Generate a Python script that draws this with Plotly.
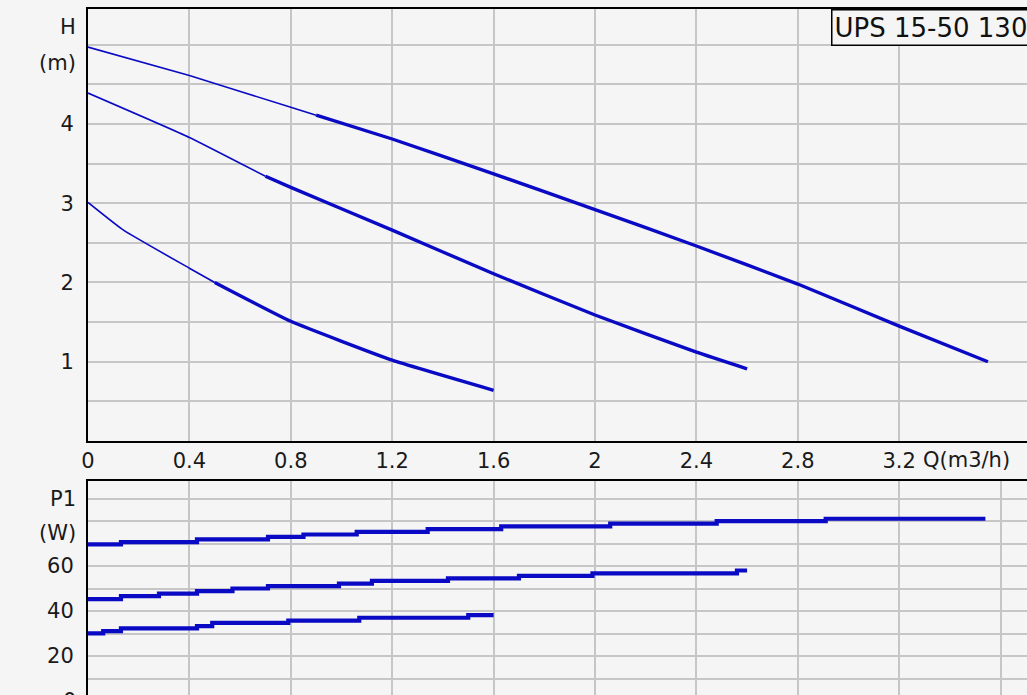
import plotly.graph_objects as go
from plotly.subplots import make_subplots

# Pump curves: head H (m) against flow Q (m3/h), three speed settings
q_h_high = [0, 0.4, 0.8, 0.9, 1.2, 1.6, 2.0, 2.4, 2.8, 3.2, 3.55]
h_high = [4.97, 4.61, 4.21, 4.11, 3.81, 3.37, 2.92, 2.46, 1.98, 1.45, 1.0]
split_high = 3  # index where the operating (thick) part begins

q_h_mid = [0, 0.4, 0.7, 0.8, 1.2, 1.6, 2.0, 2.4, 2.6]
h_mid = [4.39, 3.83, 3.34, 3.20, 2.66, 2.11, 1.59, 1.12, 0.91]
split_mid = 2

q_h_low = [0, 0.14, 0.4, 0.5, 0.8, 1.2, 1.6]
h_low = [3.01, 2.66, 2.18, 2.0, 1.51, 1.02, 0.64]
split_low = 3

# Power input P1 (W) against flow Q (m3/h)
q_p_high = [0, 0.13, 0.43, 0.71, 0.85, 1.06, 1.34, 1.63, 2.06, 2.48, 2.91, 3.54]
p_high = [69.6, 70.6, 71.8, 72.9, 74.0, 75.2, 76.4, 77.6, 78.8, 79.9, 81.0, 81.0]

q_p_mid = [0, 0.13, 0.28, 0.43, 0.57, 0.71, 0.99, 1.12, 1.42, 1.70, 1.99, 2.56, 2.60]
p_mid = [45.3, 46.6, 47.7, 48.8, 50.0, 51.1, 52.2, 53.4, 54.5, 55.6, 56.7, 58.0, 58.0]

q_p_low = [0, 0.06, 0.13, 0.43, 0.49, 0.79, 1.07, 1.50, 1.60]
p_low = [30.1, 31.1, 32.3, 33.3, 34.7, 35.7, 37.0, 38.2, 38.2]

q_ticks = [0, 0.4, 0.8, 1.2, 1.6, 2, 2.4, 2.8, 3.2]
q_tick_text = ["0", "0.4", "0.8", "1.2", "1.6", "2", "2.4", "2.8", "3.2"]
h_grid = [0.5, 1, 1.5, 2, 2.5, 3, 3.5, 4, 4.5, 5]
h_tick_text = ["", "1", "", "2", "", "3", "", "4", "", ""]
p_grid = [10, 20, 30, 40, 50, 60, 70, 80, 90]
p_tick_text = ["", "20", "", "40", "", "60", "", "", ""]

W, H = 1027, 695
ML, MT = 88, 9
PLOT_H = H - MT
BG = "#f5f5f5"
GRID = "#c6c6c6"
LINE = "#0a0ac4"
FONT = "DejaVu Sans"

fig = make_subplots(rows=2, cols=1)

for q, h, s in [(q_h_high, h_high, split_high),
                (q_h_mid, h_mid, split_mid),
                (q_h_low, h_low, split_low)]:
    fig.add_trace(go.Scatter(x=q[:s + 1], y=h[:s + 1], mode="lines",
                             line=dict(color=LINE, width=1.6, shape="spline", smoothing=0.4),
                             showlegend=False), row=1, col=1)
    fig.add_trace(go.Scatter(x=q[s:], y=h[s:], mode="lines",
                             line=dict(color=LINE, width=3.4, shape="spline", smoothing=0.4),
                             showlegend=False), row=1, col=1)

for q, p in [(q_p_high, p_high), (q_p_mid, p_mid), (q_p_low, p_low)]:
    fig.add_trace(go.Scatter(x=q, y=p, mode="lines",
                             line=dict(color=LINE, width=4.2, shape="hv"),
                             showlegend=False), row=2, col=1)

q_max = (W - ML) / 253.5
top_dom = [(H - 441) / PLOT_H, 1.0]
bot_dom = [0.0, (H - 481) / PLOT_H]
p_low_lim = (701 - H) / 2.25
p_high_lim = (701 - 481) / 2.25

tick_font = dict(family=FONT, size=21, color="#1a1a1a")

fig.update_layout(
    width=W, height=H,
    margin=dict(l=ML, r=0, t=MT, b=0),
    paper_bgcolor=BG, plot_bgcolor=BG,
    font=tick_font,
    xaxis=dict(domain=[0, 1], range=[0, q_max], tickvals=q_ticks, ticktext=q_tick_text,
               showgrid=True, gridcolor=GRID, gridwidth=2, zeroline=False,
               showline=True, linecolor="black", linewidth=2, mirror=True,
               ticks="", tickfont=tick_font, ticklabelstandoff=0),
    yaxis=dict(domain=top_dom, range=[0, 5.45], tickvals=h_grid, ticktext=h_tick_text,
               showgrid=True, gridcolor=GRID, gridwidth=2, zeroline=False,
               showline=True, linecolor="black", linewidth=2,
               ticks="", tickfont=tick_font, ticklabelstandoff=8),
    xaxis2=dict(domain=[0, 1], range=[0, q_max], dtick=0.4, tick0=0,
                showgrid=True, gridcolor=GRID, gridwidth=2, zeroline=False,
                showline=True, linecolor="black", linewidth=2, side="top",
                showticklabels=False, ticks=""),
    yaxis2=dict(domain=bot_dom, range=[p_low_lim, p_high_lim], tickvals=p_grid,
                ticktext=p_tick_text,
                showgrid=True, gridcolor=GRID, gridwidth=2, zeroline=False,
                showline=True, linecolor="black", linewidth=2,
                ticks="", tickfont=tick_font, ticklabelstandoff=8),
)

lab_x = -10 / (W - ML)
annotations = [
    dict(text="H", xref="paper", x=lab_x, yref="y", y=5.22, xanchor="right", yanchor="middle"),
    dict(text="(m)", xref="paper", x=lab_x, yref="y", y=4.77, xanchor="right", yanchor="middle"),
    dict(text="P1", xref="paper", x=lab_x, yref="y2", y=90, xanchor="right", yanchor="middle"),
    dict(text="(W)", xref="paper", x=lab_x, yref="y2", y=74.5, xanchor="right", yanchor="middle"),
    dict(text="0", xref="paper", x=lab_x, yref="paper", y=-(701 - H) / PLOT_H,
         xanchor="right", yanchor="middle"),
    dict(text="Q(m3/h)", xref="x", x=(921 - ML) / 253.5, yref="paper",
         y=(H - 460) / PLOT_H, xanchor="left", yanchor="middle"),
]
for a in annotations:
    a.update(showarrow=False, font=tick_font)
    fig.add_annotation(**a)

fig.add_annotation(text="UPS 15-50 130", xref="paper", x=(831 - ML) / (W - ML),
                   yref="paper", y=1.0, xanchor="left", yanchor="top",
                   showarrow=False, font=dict(family=FONT, size=26, color="#111111"),
                   bgcolor=BG, bordercolor="black", borderwidth=1.5, borderpad=2)

fig.write_html("out.html")
